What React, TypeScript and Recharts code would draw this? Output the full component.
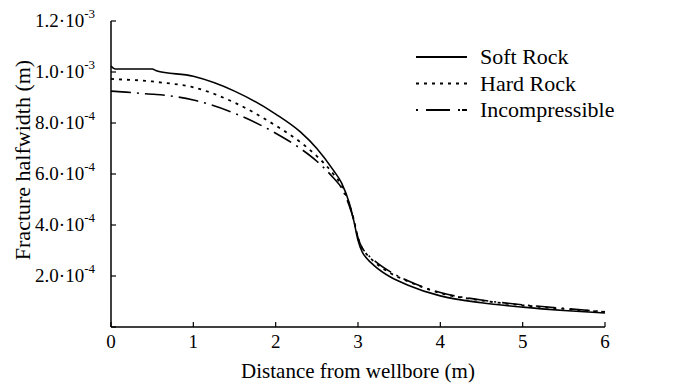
import React from 'react';
import { LineChart, Line, XAxis, YAxis, Legend } from 'recharts';

// distance from wellbore (m)
const distance = [0, 0.05, 0.5, 0.55, 1, 1.5, 2, 2.3, 2.5, 2.7, 2.8, 2.9, 2.95, 3, 3.05, 3.1, 3.2, 3.4, 3.6, 4, 4.5, 5, 5.5, 6];

// fracture halfwidth (m)
const softRock = [
  1.023e-3, 1.012e-3, 1.012e-3, 1.005e-3, 0.983e-3, 0.925e-3, 0.835e-3, 0.765e-3, 0.7e-3, 0.615e-3, 0.565e-3, 0.48e-3,
  0.415e-3, 0.34e-3, 0.295e-3, 0.272e-3, 0.24e-3, 0.195e-3, 0.165e-3, 0.122e-3, 0.095e-3, 0.078e-3, 0.065e-3, 0.055e-3,
];
const hardRock = [
  0.973e-3, 0.972e-3, 0.963e-3, 0.961e-3, 0.94e-3, 0.88e-3, 0.79e-3, 0.725e-3, 0.67e-3, 0.6e-3, 0.555e-3, 0.475e-3,
  0.42e-3, 0.35e-3, 0.31e-3, 0.287e-3, 0.255e-3, 0.21e-3, 0.18e-3, 0.133e-3, 0.104e-3, 0.085e-3, 0.071e-3, 0.059e-3,
];
const incompressible = [
  0.925e-3, 0.924e-3, 0.913e-3, 0.912e-3, 0.89e-3, 0.838e-3, 0.76e-3, 0.7e-3, 0.65e-3, 0.585e-3, 0.545e-3, 0.47e-3,
  0.418e-3, 0.35e-3, 0.31e-3, 0.29e-3, 0.26e-3, 0.215e-3, 0.182e-3, 0.135e-3, 0.106e-3, 0.087e-3, 0.073e-3, 0.06e-3,
];

const xTicks = [0, 1, 2, 3, 4, 5, 6];
const yTicks = [0, 2e-4, 4e-4, 6e-4, 8e-4, 1e-3, 1.2e-3];

const seriesNames = ['Soft Rock', 'Hard Rock', 'Incompressible'];

const FONT = "'Liberation Serif', serif";
const DOTTED = '3 5';
const DASH_DOT = '20 6 2 6';

const data = distance.map((d, i) => ({
  distance: d,
  soft: softRock[i],
  hard: hardRock[i],
  incomp: incompressible[i],
}));

// y labels as mantissa·10^exp, ticks pointing into the plot
const YTick = ({ x, y, payload }: any) => {
  const v = payload.value;
  const axisX = x + 16;
  return (
    <g>
      <line x1={axisX} x2={axisX + 5} y1={y} y2={y} stroke="#000" strokeWidth={1.2} />
      {v > 0 && (
        <text x={x} y={y + 6} textAnchor="end" style={{ fontFamily: FONT }} fontSize={19} fill="#000">
          {(() => {
            const exp = Math.floor(Math.log10(v) + 1e-9);
            const mant = (v / Math.pow(10, exp)).toFixed(1);
            return (
              <>
                <tspan>{mant}·10</tspan>
                <tspan dy={-9} fontSize={13}>{exp}</tspan>
              </>
            );
          })()}
        </text>
      )}
    </g>
  );
};

const XTick = ({ x, y, payload }: any) => (
  <g>
    <line x1={x} x2={x} y1={y} y2={y - 5} stroke="#000" strokeWidth={1.2} />
    <text x={x} y={y + 21} textAnchor="middle" style={{ fontFamily: FONT }} fontSize={19} fill="#000">
      {payload.value}
    </text>
  </g>
);

// rotated axis title, sitting a little above the plot's vertical centre
const YTitle = ({ viewBox }: any) => {
  const cx = 22;
  const cy = viewBox.y + viewBox.height / 2 - 14;
  return (
    <text
      x={cx}
      y={cy}
      transform={`rotate(-90, ${cx}, ${cy})`}
      textAnchor="middle"
      dominantBaseline="central"
      style={{ fontFamily: FONT }}
      fontSize={22}
      fill="#000"
    >
      Fracture halfwidth (m)
    </text>
  );
};

const legendStyles = [
  { dash: undefined, width: 1.8 },
  { dash: DOTTED, width: 2 },
  { dash: '2 8 24 8 2', width: 1.8 },
];

const renderLegend = () => (
  <svg width={230} height={90}>
    {seriesNames.map((name, i) => {
      const cy = 17 + i * 26.5;
      return (
        <g key={name}>
          <line
            x1={6}
            x2={57}
            y1={cy}
            y2={cy}
            stroke="#000"
            strokeWidth={legendStyles[i].width}
            strokeDasharray={legendStyles[i].dash}
          />
          <text x={70} y={cy + 7} style={{ fontFamily: FONT }} fontSize={22} fill="#000">
            {name}
          </text>
        </g>
      );
    })}
  </svg>
);

export default function App() {
  return (
    <div style={{ position: 'absolute', left: 0, top: 0, width: 675, height: 388, background: '#fff' }}>
      <LineChart
        width={675}
        height={388}
        data={data}
        margin={{ top: 21, right: 70, left: 0, bottom: 0 }}
        style={{ fontFamily: FONT }}
      >
        <XAxis
          dataKey="distance"
          type="number"
          domain={[0, 6]}
          ticks={xTicks}
          interval={0}
          height={61}
          tickSize={0}
          tickMargin={0}
          tick={<XTick />}
          axisLine={{ stroke: '#000', strokeWidth: 1.5 }}
          label={{
            value: 'Distance from wellbore (m)',
            position: 'insideBottom',
            offset: 10,
            style: { fontFamily: FONT },
            fontSize: 21,
            fill: '#000',
          }}
        />
        <YAxis
          type="number"
          domain={[0, 1.2e-3]}
          ticks={yTicks}
          interval={0}
          width={111}
          tickSize={0}
          tickMargin={16}
          tick={<YTick />}
          axisLine={{ stroke: '#000', strokeWidth: 1.5 }}
          label={{ content: <YTitle /> }}
        />
        <Legend
          layout="vertical"
          align="center"
          verticalAlign="middle"
          content={renderLegend}
          wrapperStyle={{ left: 410, top: 40, width: 230, height: 90 }}
        />
        <Line
          type="monotone"
          dataKey="soft"
          name={seriesNames[0]}
          stroke="#000"
          strokeWidth={1.6}
          dot={false}
          isAnimationActive={false}
        />
        <Line
          type="monotone"
          dataKey="hard"
          name={seriesNames[1]}
          stroke="#000"
          strokeWidth={1.8}
          strokeDasharray={DOTTED}
          dot={false}
          isAnimationActive={false}
        />
        <Line
          type="monotone"
          dataKey="incomp"
          name={seriesNames[2]}
          stroke="#000"
          strokeWidth={1.6}
          strokeDasharray={DASH_DOT}
          dot={false}
          isAnimationActive={false}
        />
      </LineChart>
    </div>
  );
}
